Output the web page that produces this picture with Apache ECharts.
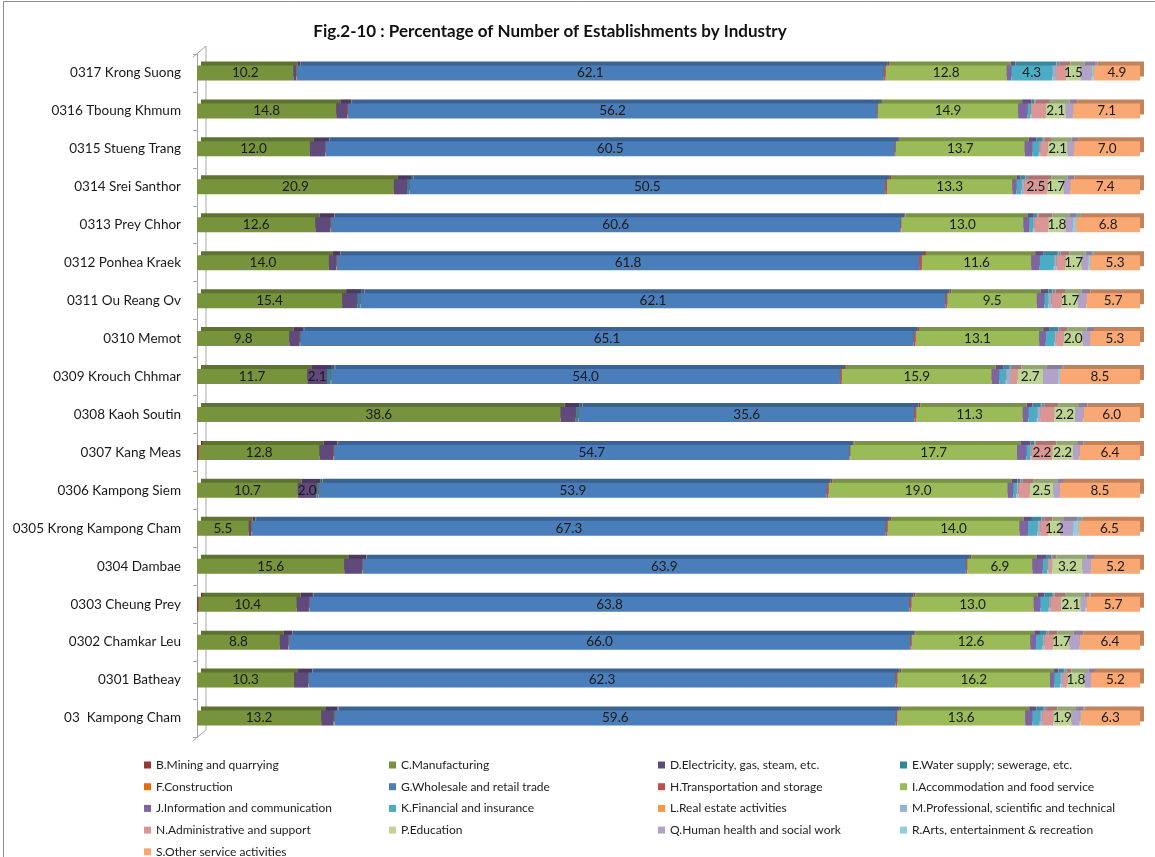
<!DOCTYPE html>
<html>
<head>
<meta charset="utf-8">
<title>Fig.2-10</title>
<script src="https://cdn.jsdelivr.net/npm/echarts@6/dist/echarts.min.js"></script>
<style>
  html, body { margin: 0; padding: 0; background: #fff; }
  #chart { width: 1155px; height: 857px; }
</style>
</head>
<body>
<div id="chart"></div>
<script>
// bottom -> top, as drawn on the category axis
const districts = [
  '03  Kampong Cham', '0301 Batheay', '0302 Chamkar Leu', '0303 Cheung Prey',
  '0304 Dambae', '0305 Krong Kampong Cham', '0306 Kampong Siem', '0307 Kang Meas',
  '0308 Kaoh Soutin', '0309 Krouch Chhmar', '0310 Memot', '0311 Ou Reang Ov',
  '0312 Ponhea Kraek', '0313 Prey Chhor', '0314 Srei Santhor', '0315 Stueng Trang',
  '0316 Tboung Khmum', '0317 Krong Suong'
];

// percentage of establishments, one array per industry (same order as districts)
const mining        = [0, 0, 0, 0.2, 0, 0, 0, 0.2, 0, 0, 0, 0, 0, 0, 0, 0, 0, 0];
const manufacturing = [13.2, 10.3, 8.8, 10.4, 15.6, 5.5, 10.7, 12.8, 38.6, 11.7, 9.8, 15.4, 14.0, 12.6, 20.9, 12.0, 14.8, 10.2];
const electricity   = [1.3, 1.5, 0.9, 1.3, 1.9, 0.3, 2.0, 1.5, 1.6, 2.1, 1.1, 1.6, 0.8, 1.6, 1.4, 1.6, 1.2, 0.3];
const water         = [0.1, 0, 0, 0, 0, 0, 0.2, 0, 0.3, 0.4, 0, 0.3, 0, 0, 0.2, 0, 0, 0];
const construction  = [0.05, 0.05, 0.05, 0.05, 0.05, 0.05, 0.05, 0.05, 0.05, 0.05, 0.05, 0.05, 0.05, 0.05, 0.05, 0.05, 0.05, 0.05];
const wholesale     = [59.6, 62.3, 66.0, 63.8, 63.9, 67.3, 53.9, 54.7, 35.6, 54.0, 65.1, 62.1, 61.8, 60.6, 50.5, 60.5, 56.2, 62.1];
const transport     = [0.15, 0.2, 0.15, 0.2, 0.15, 0.2, 0.2, 0.1, 0.2, 0.2, 0.2, 0.2, 0.3, 0.1, 0.2, 0.1, 0.1, 0.2];
const accommodation = [13.6, 16.2, 12.6, 13.0, 6.9, 14.0, 19.0, 17.7, 11.3, 15.9, 13.1, 9.5, 11.6, 13.0, 13.3, 13.7, 14.9, 12.8];
const information   = [0.75, 0.45, 0.6, 0.7, 1.1, 0.9, 0.6, 1.0, 0.6, 0.8, 0.7, 0.8, 0.9, 0.6, 0.45, 0.8, 1.0, 0.5];
const financial     = [0.8, 0.6, 0.7, 0.9, 0.5, 1.0, 0.3, 0.4, 0.9, 0.7, 0.9, 0.4, 1.5, 0.4, 0.5, 0.7, 0.3, 4.3];
const realEstate    = [0.05, 0.05, 0.05, 0.05, 0.05, 0.05, 0.05, 0.05, 0.05, 0.05, 0.05, 0.05, 0.05, 0.05, 0.05, 0.05, 0.05, 0.05];
const professional  = [0.2, 0.25, 0.15, 0.15, 0.1, 0.25, 0.2, 0.1, 0.3, 0.4, 0.15, 0.3, 0.25, 0.1, 0.25, 0.1, 0.1, 0.35];
const administrative= [1.2, 0.5, 0.95, 1.1, 0.35, 0.9, 1.2, 2.2, 1.5, 0.8, 0.8, 1.1, 0.95, 1.5, 2.5, 0.8, 1.5, 1.1];
const education     = [1.9, 1.8, 1.7, 2.1, 3.2, 1.2, 2.5, 2.2, 2.2, 2.7, 2.0, 1.7, 1.7, 1.8, 1.7, 2.1, 2.1, 1.5];
const health        = [0.9, 0.7, 1.1, 0.5, 0.9, 1.4, 0.7, 0.7, 0.9, 1.6, 0.8, 0.9, 0.7, 0.8, 0.7, 0.7, 0.8, 1.2];
const arts          = [0.1, 0, 0, 0.1, 0, 0.6, 0, 0, 0, 0.2, 0, 0, 0.2, 0.35, 0, 0, 0, 0.2];
const otherService  = [6.3, 5.2, 6.4, 5.7, 5.2, 6.5, 8.5, 6.4, 6.0, 8.5, 5.3, 5.7, 5.3, 6.8, 7.4, 7.0, 7.1, 4.9];

const industries = [
  { name: 'B.Mining and quarrying', data: mining, color: '#953735' },
  { name: 'C.Manufacturing', data: manufacturing, color: '#77933C', label: 0 },
  { name: 'D.Electricity, gas, steam, etc.', data: electricity, color: '#604A7B', label: 2 },
  { name: 'E.Water supply; sewerage, etc.', data: water, color: '#31859C' },
  { name: 'F.Construction', data: construction, color: '#E46C0A' },
  { name: 'G.Wholesale and retail trade', data: wholesale, color: '#4A7EBB', label: 0 },
  { name: 'H.Transportation and storage', data: transport, color: '#C0504D' },
  { name: 'I.Accommodation and food service', data: accommodation, color: '#9BBB59', label: 0 },
  { name: 'J.Information and communication', data: information, color: '#8064A2' },
  { name: 'K.Financial and insurance', data: financial, color: '#4BACC6', label: 2 },
  { name: 'L.Real estate activities', data: realEstate, color: '#F79646' },
  { name: 'M.Professional, scientific and technical', data: professional, color: '#95B3D7' },
  { name: 'N.Administrative and support', data: administrative, color: '#D99694', label: 2 },
  { name: 'P.Education', data: education, color: '#BDD495', label: 0 },
  { name: 'Q.Human health and social work', data: health, color: '#B3A2C7' },
  { name: 'R.Arts, entertainment & recreation', data: arts, color: '#93CDDD' },
  { name: 'S.Other service activities', data: otherService, color: '#F9A873', label: 0 }
];

const legendCols = [
  ['B', 'F', 'J', 'N', 'S'],
  ['C', 'G', 'K', 'P'],
  ['D', 'H', 'L', 'Q'],
  ['E', 'I', 'M', 'R']
];
const legendLeft = [144, 389, 658, 900];

// 100% stacked: each district sums to 100
const totals = districts.map((_, i) => industries.reduce((s, ind) => s + ind.data[i], 0));

function darker(hex, k) {
  const n = parseInt(hex.slice(1), 16);
  const r = Math.round(((n >> 16) & 255) * k);
  const g = Math.round(((n >> 8) & 255) * k);
  const b = Math.round((n & 255) * k);
  return `rgb(${r},${g},${b})`;
}

const FONT = 'Lato, "Open Sans", sans-serif';
const chart = echarts.init(document.getElementById('chart'));

const series = industries.map((ind) => ({
  name: ind.name,
  type: 'bar',
  stack: 'all',
  barWidth: 15,
  data: ind.data.map((v, i) => (v / totals[i]) * 100),
  itemStyle: {
    color: ind.color,
    // fake Excel 3-D top / end face
    shadowColor: darker(ind.color, 0.78),
    shadowBlur: 0,
    shadowOffsetX: 4,
    shadowOffsetY: -4
  },
  label: {
    show: ind.label !== undefined,
    position: 'inside',
    color: '#1a1a1a',
    fontFamily: FONT,
    fontSize: 13.5,
    formatter: (p) => {
      const raw = ind.data[p.dataIndex];
      return raw >= ind.label ? raw.toFixed(1) : '';
    }
  },
  emphasis: { disabled: true }
}));

const legends = legendCols.map((col, c) => ({
  orient: 'vertical',
  left: legendLeft[c],
  top: 758,
  height: 130,
  padding: 0,
  itemWidth: 7,
  itemHeight: 7,
  itemGap: 7.7,
  icon: 'rect',
  selectedMode: false,
  textStyle: { fontFamily: FONT, fontSize: 12, color: '#222', lineHeight: 14 },
  data: col.map((k) => industries.find((ind) => ind.name.startsWith(k + '.')).name)
}));

chart.setOption({
  animation: false,
  textStyle: { fontFamily: FONT },
  title: {
    text: 'Fig.2-10 : Percentage of Number of Establishments by Industry',
    left: 545,
    textAlign: 'center',
    top: 18,
    textStyle: { fontFamily: FONT, fontSize: 17, fontWeight: 'bold', color: '#111' }
  },
  legend: legends,
  grid: { left: 197, right: 15, top: 54, bottom: 120 },
  xAxis: {
    type: 'value',
    min: 0,
    max: 100,
    show: false
  },
  yAxis: {
    type: 'category',
    data: districts,
    offset: 4,
    axisLine: { lineStyle: { color: '#a6a6a6' } },
    axisTick: { show: true, length: 4, lineStyle: { color: '#a6a6a6' } },
    axisLabel: { color: '#1a1a1a', fontSize: 13.5, fontFamily: FONT, margin: 12 }
  },
  graphic: [
    { type: 'rect', silent: true, shape: { x: 3.5, y: 1.5, width: 1200, height: 1000 },
      style: { fill: 'none', stroke: '#8c8c8c', lineWidth: 1 } },
    { type: 'polyline', silent: true,
      shape: { points: [[193, 57], [206, 46], [206, 730], [193, 741]] },
      style: { fill: 'none', stroke: '#a6a6a6', lineWidth: 1 } }
  ],
  series: series
});
</script>
</body>
</html>
